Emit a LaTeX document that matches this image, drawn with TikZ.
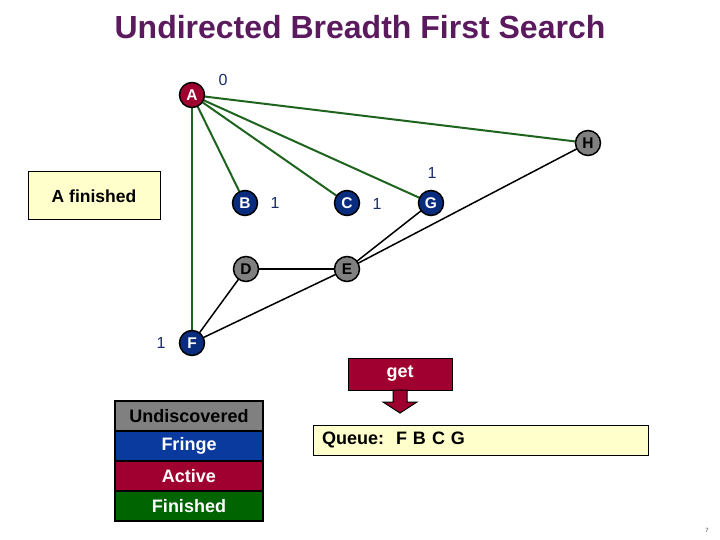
\documentclass[tikz,border=0pt]{standalone}
\usepackage{fontspec}
\setmainfont{Liberation Sans}
\definecolor{titlepurple}{HTML}{5B1A5E}
\definecolor{nodered}{HTML}{A00030}
\definecolor{nodeblue}{HTML}{0A2C7E}
\definecolor{legblue}{HTML}{0A3A9E}
\definecolor{nodegray}{HTML}{808080}
\definecolor{leggreen}{HTML}{006400}
\definecolor{edgegreen}{HTML}{1E641E}
\definecolor{paleyellow}{HTML}{FFFFCC}
\definecolor{numblue}{HTML}{1A2A6A}
\begin{document}
\begin{tikzpicture}[x=1pt,y=-1pt,
  vert/.style={circle,draw=black,line width=1.5pt,minimum size=25pt,inner sep=0pt,
    font=\fontsize{15.5}{15.5}\selectfont\bfseries,text=white},
  undisc/.style={vert,fill=nodegray,text=black},
  fringe/.style={vert,fill=nodeblue},
  active/.style={vert,fill=nodered},
  num/.style={font=\fontsize{16}{16}\selectfont,text=numblue,inner sep=0pt},
  gedge/.style={draw=edgegreen,line width=2pt},
  bedge/.style={draw=black,line width=1.5pt},
  legbox/.style={draw=black,line width=1.5pt,minimum width=148pt,minimum height=30pt,
    inner sep=0pt,font=\fontsize{18}{18}\selectfont\bfseries},
  notebox/.style={draw=black,line width=1pt,fill=paleyellow,inner sep=0pt,
    font=\fontsize{17.5}{17.5}\selectfont\bfseries}
]
\useasboundingbox (0,0) rectangle (720,540);
\fill[white] (0,0) rectangle (720,540);

\node[font=\fontsize{32}{32}\selectfont\bfseries,text=titlepurple] (title) at (360,27) {Undirected Breadth First Search};

% vertex positions
\coordinate (pA) at (192,95);
\coordinate (pH) at (588,143);
\coordinate (pB) at (245,203);
\coordinate (pC) at (347,203);
\coordinate (pG) at (431,203);
\coordinate (pD) at (246,269);
\coordinate (pE) at (347,269);
\coordinate (pF) at (192,343);

% edges
\path[gedge] (pA) -- (pH);
\path[gedge] (pA) -- (pG);
\path[gedge] (pA) -- (pC);
\path[gedge] (pA) -- (pB);
\path[gedge] (pA) -- (pF);
\path[bedge] (pG) -- (pE);
\path[bedge] (pE) -- (pH);
\path[bedge] (pD) -- (pE);
\path[bedge] (pD) -- (pF);
\path[bedge] (pE) -- (pF);

% vertices
\node[active] (A) at (pA) {A};
\node[undisc] (H) at (pH) {H};
\node[fringe] (B) at (pB) {B};
\node[fringe] (C) at (pC) {C};
\node[fringe] (G) at (pG) {G};
\node[undisc] (D) at (pD) {D};
\node[undisc] (E) at (pE) {E};
\node[fringe] (F) at (pF) {F};

% distance labels
\node[num] (nA) at (223,80) {0};
\node[num] (nB) at (275,203) {1};
\node[num] (nC) at (377,204) {1};
\node[num] (nG) at (432,173) {1};
\node[num] (nF) at (161,343) {1};

% A finished box
\node[notebox,minimum width=132pt,minimum height=48pt] (fin) at (94,196) {A finished};

% get box and arrow
\node[draw=black,line width=1pt,fill=nodered,minimum width=104pt,minimum height=32pt,inner sep=0pt,
  text=white,font=\fontsize{18}{18}\selectfont\bfseries] (get) at (400,374) {get};
\coordinate (tip) at (400,413);
\filldraw[fill=nodered,draw=black,line width=1pt]
  (393,390) -- (393,402) -- (383,402) -- (tip) -- (417,402) -- (407,402) -- (407,390) -- cycle;

% queue box
\node[notebox,minimum width=335pt,minimum height=30pt,text width=325pt,align=left,
  font=\fontsize{18}{18}\selectfont\bfseries] (queue) at (480.5,440) {\hspace*{4pt}Queue:\ \ F B C G};

% legend
\node[legbox,fill=nodegray,text=black] (lu) at (189,416) {Undiscovered};
\node[legbox,fill=legblue,text=white] (lf) at (189,446) {Fringe};
\node[legbox,fill=nodered,text=white] (la) at (189,476) {Active};
\node[legbox,fill=leggreen,text=white] (lfi) at (189,506) {Finished};

% page number
\node[font=\fontsize{6}{6}\selectfont,text=black!70] (pg) at (707,530) {7};
\end{tikzpicture}
\end{document}
